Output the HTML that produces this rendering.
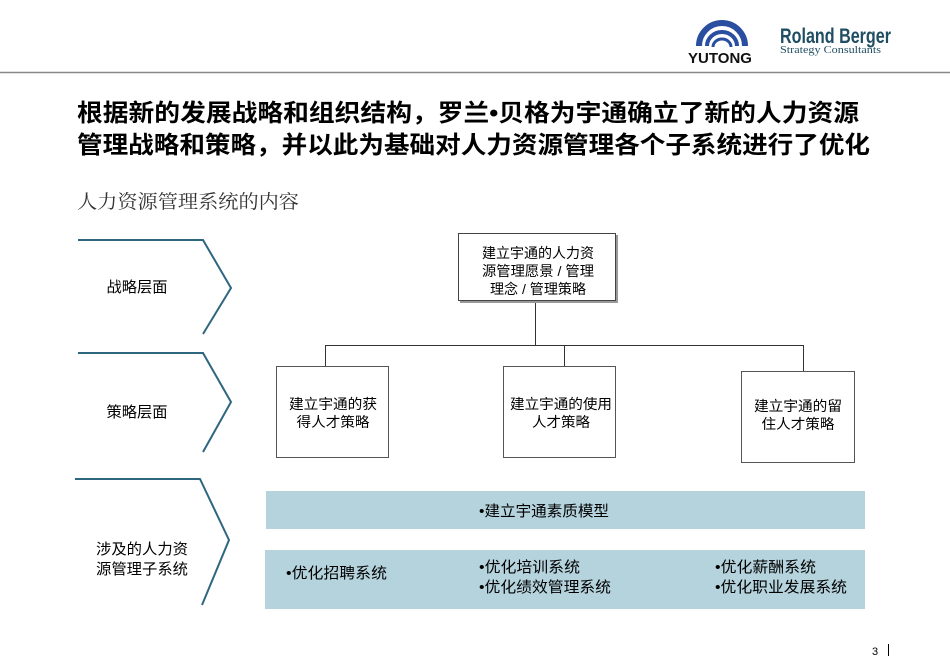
<!DOCTYPE html>
<html><head><meta charset="utf-8"><style>
body{margin:0;background:#fff;}
svg text{font-family:"Liberation Sans","Noto Sans CJK SC",sans-serif;}
</style></head><body>
<svg width="950" height="658" xmlns="http://www.w3.org/2000/svg">
<rect width="950" height="658" fill="#fff"/>
<g fill="none" stroke="#2a4fa0" stroke-linecap="butt">
<path d="M699,46 A23,23 0 0 1 745,46" stroke-width="6"/>
<path d="M707,46 A15,14 0 0 1 737,46" stroke-width="4"/>
<path d="M713,47 A9,8 0 0 1 731,47" stroke-width="3"/>
</g>
<text x="720" y="63" font-size="15" font-weight="bold" text-anchor="middle" fill="#111">YUTONG</text>
<text x="780" y="43" font-size="21" font-weight="bold" fill="#1f4e62" textLength="111" lengthAdjust="spacingAndGlyphs">Roland Berger</text>
<text x="780" y="53" font-size="11" fill="#1f4e62" style="font-family:'Liberation Serif',serif" textLength="101" lengthAdjust="spacingAndGlyphs">Strategy Consultants</text>
<line x1="0" y1="72.5" x2="950" y2="72.5" stroke="#888" stroke-width="1.5"/>
<text x="77" y="121" font-size="24" font-weight="bold" fill="#000" textLength="782" lengthAdjust="spacingAndGlyphs">根据新的发展战略和组织结构，罗兰•贝格为宇通确立了新的人力资源</text>
<text x="77" y="153" font-size="24" font-weight="bold" fill="#000" textLength="793" lengthAdjust="spacingAndGlyphs">管理战略和策略，并以此为基础对人力资源管理各个子系统进行了优化</text>
<text x="77" y="208" font-size="19" fill="#333" style="font-family:'Liberation Serif','Noto Serif CJK SC',serif" textLength="222" lengthAdjust="spacingAndGlyphs">人力资源管理系统的内容</text>
<g fill="none" stroke="#2e6680" stroke-width="2">
<path d="M78,240 H203 L231,288 L203,334"/>
<path d="M78,353 H203 L231,402 L203,452"/>
<path d="M75,479 H200 L229,540 L202,605"/>
</g>
<g font-size="15" fill="#000" text-anchor="middle">
<text x="137" y="292" textLength="61" lengthAdjust="spacingAndGlyphs">战略层面</text>
<text x="137" y="417" textLength="61" lengthAdjust="spacingAndGlyphs">策略层面</text>
<text x="142" y="554" textLength="92" lengthAdjust="spacingAndGlyphs">涉及的人力资</text>
<text x="142" y="574" textLength="92" lengthAdjust="spacingAndGlyphs">源管理子系统</text>
</g>
<g stroke="#333" stroke-width="1" fill="none">
<line x1="535.5" y1="301" x2="535.5" y2="345"/>
<line x1="325.5" y1="345.5" x2="803.5" y2="345.5"/>
<line x1="325.5" y1="345" x2="325.5" y2="366"/>
<line x1="564.5" y1="345" x2="564.5" y2="366"/>
<line x1="803.5" y1="345" x2="803.5" y2="371"/>
</g>
<rect x="460" y="235" width="158" height="68" fill="#999"/>
<rect x="458.5" y="233.5" width="157" height="67" fill="#fff" stroke="#444"/>
<g stroke="#555" fill="#fff">
<rect x="276.5" y="366.5" width="112" height="91"/>
<rect x="503.5" y="366.5" width="112" height="91"/>
<rect x="741.5" y="371.5" width="113" height="91"/>
</g>
<g font-size="14" fill="#000" text-anchor="middle">
<text x="538" y="258" textLength="112" lengthAdjust="spacingAndGlyphs">建立宇通的人力资</text>
<text x="538" y="276" textLength="112" lengthAdjust="spacingAndGlyphs">源管理愿景 / 管理</text>
<text x="538" y="294" textLength="96" lengthAdjust="spacingAndGlyphs">理念 / 管理策略</text>
<text x="333" y="409" textLength="88" lengthAdjust="spacingAndGlyphs">建立宇通的获</text>
<text x="333" y="427" textLength="73" lengthAdjust="spacingAndGlyphs">得人才策略</text>
<text x="561" y="409" textLength="102" lengthAdjust="spacingAndGlyphs">建立宇通的使用</text>
<text x="561" y="427" textLength="58" lengthAdjust="spacingAndGlyphs">人才策略</text>
<text x="798" y="411" textLength="88" lengthAdjust="spacingAndGlyphs">建立宇通的留</text>
<text x="798" y="429" textLength="73" lengthAdjust="spacingAndGlyphs">住人才策略</text>
</g>
<rect x="266" y="491" width="599" height="38" fill="#b5d3dd"/>
<rect x="265" y="550" width="600" height="59" fill="#b5d3dd"/>
<g font-size="15" fill="#000">
<text x="479" y="516" textLength="130" lengthAdjust="spacingAndGlyphs">•建立宇通素质模型</text>
<text x="286" y="578" textLength="101" lengthAdjust="spacingAndGlyphs">•优化招聘系统</text>
<text x="479" y="572" textLength="101" lengthAdjust="spacingAndGlyphs">•优化培训系统</text>
<text x="479" y="592" textLength="132" lengthAdjust="spacingAndGlyphs">•优化绩效管理系统</text>
<text x="715" y="572" textLength="101" lengthAdjust="spacingAndGlyphs">•优化薪酬系统</text>
<text x="715" y="592" textLength="132" lengthAdjust="spacingAndGlyphs">•优化职业发展系统</text>
</g>
<text x="872" y="655" font-size="11" fill="#000">3</text>
<line x1="888.5" y1="644" x2="888.5" y2="656" stroke="#000" stroke-width="1"/>
</svg>
</body></html>
